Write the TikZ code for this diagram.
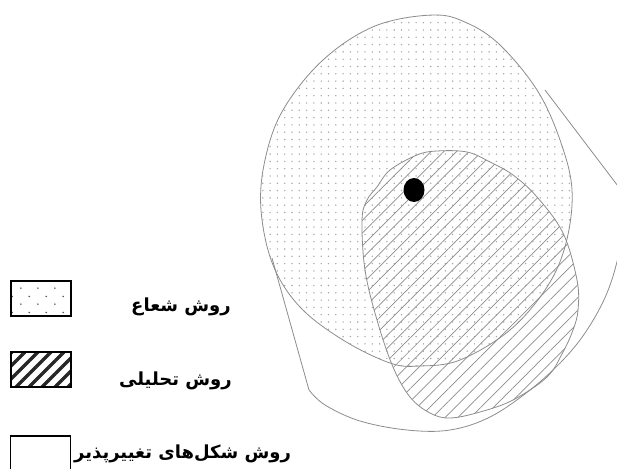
\documentclass[tikz,border=0pt]{standalone}
\usepackage{fontspec}
\usetikzlibrary{patterns,patterns.meta}
\newfontfamily\farsifont[Script=Arabic]{DejaVu Sans}
\TeXXeTstate=1
\definecolor{shapegray}{HTML}{8C8C8C}
\definecolor{dotgray}{HTML}{A8A8A8}

\tikzdeclarepattern{
  name=sparsedots,
  type=uncolored,
  bottom left={(0pt,0pt)},
  top right={(16.6pt,16pt)},
  tile size={(16.6pt,16pt)},
  code={\fill (4pt,4pt) circle (.9pt); \fill (12.3pt,12pt) circle (.9pt);}
}

\begin{document}
\begin{tikzpicture}[
  x=1pt,y=-1pt,
  shapeline/.style={draw=shapegray,line width=.8pt},
  keybox/.style={draw=black,line width=1.3pt,minimum width=60pt,minimum height=35pt,inner sep=0pt},
  keylabel/.style={font=\farsifont\bfseries\fontsize{18}{21}\selectfont,inner sep=0pt}]
  \useasboundingbox (0,0) rectangle (617,468);
  \begin{scope}
  \clip (0,0) rectangle (617,468);
  % radius method region
  \filldraw[shapeline,pattern={Dots[radius=.8pt,distance=7.3pt]},pattern color=dotgray]
    plot[smooth cycle,tension=.6] coordinates {(433,15) (467,23) (500,45) (537,90) (560,140) (572,190)
      (566,243) (547,287) (510,330) (460,360) (420,366) (390,363) (343,340) (300,307) (273,265)
      (261,210) (265,160) (283,110) (323,60) (375,26)};
  % analytic method region
  \filldraw[shapeline,pattern={Lines[angle=45,distance=9pt,line width=.7pt]},pattern color=shapegray]
    plot[smooth cycle,tension=.6] coordinates {(437,151) (467,152) (490,162) (513,175) (537,197)
      (563,233) (577,280) (578,310) (573,330) (563,352) (547,377) (513,400) (480,412) (450,418)
      (430,413) (410,397) (393,367) (377,320) (365,270) (362,220) (367,200) (377,187) (390,170) (417,155)};
  % deformable method envelope
  \draw[shapeline] (272,258) -- plot[smooth,tension=.6] coordinates {(309,390) (325,405) (360,421)
      (407,430) (450,430) (490,417) (530,390) (563,360) (587,330) (607,293) (619,253) (624,215)
      (624,194)} -- (545,90);
  \end{scope}
  \fill (414,190) ellipse (10.5 and 12);
  % legend
  \node[keybox,pattern=sparsedots,pattern color=black!65] (radiusKey) at (41,298.5) {};
  \node[keylabel,anchor=east] (radiusLabel) at (231,307) {\beginR روش شعاع\endR};
  \node[keybox,pattern={Lines[angle=45,distance=9.2pt,line width=3.4pt]},pattern color=black!85] (analyticKey) at (41,369.5) {};
  \node[keylabel,anchor=east] (analyticLabel) at (232,381) {\beginR روش تحلیلی\endR};
  \node[keybox,minimum height=44pt] (deformKey) at (40.5,458) {};
  \node[keylabel,anchor=west] (deformLabel) at (74,454) {\beginR روش شکل‌های تغییرپذیر\endR};
\end{tikzpicture}
\end{document}
